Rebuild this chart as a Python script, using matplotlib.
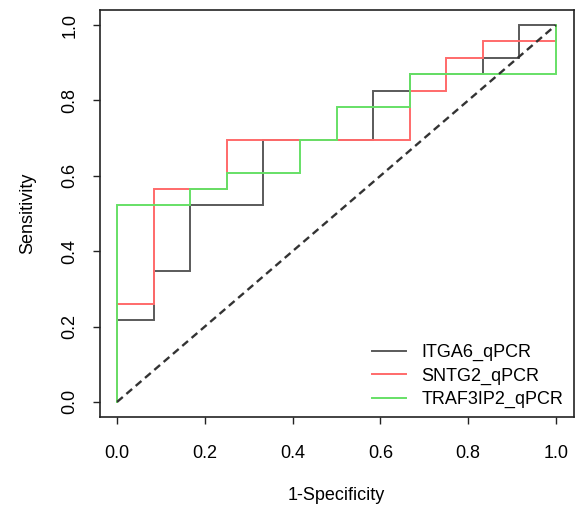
import matplotlib
matplotlib.use("Agg")
import matplotlib.pyplot as plt

plt.rcParams['font.family'] = ['Liberation Sans', 'DejaVu Sans']

labels = ["ITGA6_qPCR", "SNTG2_qPCR", "TRAF3IP2_qPCR"]
colors = ["#5a5a5a", "#ff6a6a", "#66e066"]

# ROC vertices: 1-specificity (x) and sensitivity (y)
itga6_fpr = [0, 0, 1/12, 1/12, 2/12, 2/12, 4/12, 4/12, 7/12, 7/12, 8/12, 8/12, 10/12, 10/12, 11/12, 11/12, 1]
itga6_tpr = [0, 5/23, 5/23, 8/23, 8/23, 12/23, 12/23, 16/23, 16/23, 19/23, 19/23, 20/23, 20/23, 21/23, 21/23, 1, 1]

sntg2_fpr = [0, 0, 1/12, 1/12, 3/12, 3/12, 8/12, 8/12, 9/12, 9/12, 10/12, 10/12, 1, 1]
sntg2_tpr = [0, 6/23, 6/23, 13/23, 13/23, 16/23, 16/23, 19/23, 19/23, 21/23, 21/23, 22/23, 22/23, 1]

traf_fpr = [0, 0, 2/12, 2/12, 3/12, 3/12, 5/12, 5/12, 6/12, 6/12, 8/12, 8/12, 1, 1]
traf_tpr = [0, 12/23, 12/23, 13/23, 13/23, 14/23, 14/23, 16/23, 16/23, 18/23, 18/23, 20/23, 20/23, 1]

ticks = [0.0, 0.2, 0.4, 0.6, 0.8, 1.0]
tick_labels = ["0.0", "0.2", "0.4", "0.6", "0.8", "1.0"]

fig = plt.figure(figsize=(5.78, 5.09), dpi=100)
ax = fig.add_axes([99.5/578, 92/509, 474/578, 407/509])

series = [(itga6_fpr, itga6_tpr), (sntg2_fpr, sntg2_tpr), (traf_fpr, traf_tpr)]
for (x, y), lab, c in zip(series, labels, colors):
    ax.plot(x, y, color=c, lw=1.4, label=lab, solid_joinstyle='miter')

ax.plot([0, 1], [0, 1], color="#333333", lw=1.7, ls=(0, (3.2, 2)))

ax.set_xlim(-0.04, 1.04)
ax.set_ylim(-0.04, 1.04)
ax.set_xticks(ticks)
ax.set_xticklabels(tick_labels)
ax.set_yticks(ticks)
ax.set_yticklabels(tick_labels, rotation=90, va='center')
ax.tick_params(axis='both', direction='out', length=5, width=1, labelsize=13, color='#222222')
ax.tick_params(axis='x', pad=15)
ax.tick_params(axis='y', pad=10)
for s in ax.spines.values():
    s.set_linewidth(1.2)
    s.set_color('#222222')

ax.set_xlabel("1-Specificity", fontsize=13, labelpad=18)
ax.set_ylabel("Sensitivity", fontsize=13, labelpad=18)

leg = ax.legend(loc='lower right', bbox_to_anchor=(0.978, 0.022), frameon=False,
                fontsize=13, handlelength=1.9, handletextpad=0.85, labelspacing=0.35,
                borderaxespad=0.0, borderpad=0.0)

fig.savefig("out.png", dpi=100)
